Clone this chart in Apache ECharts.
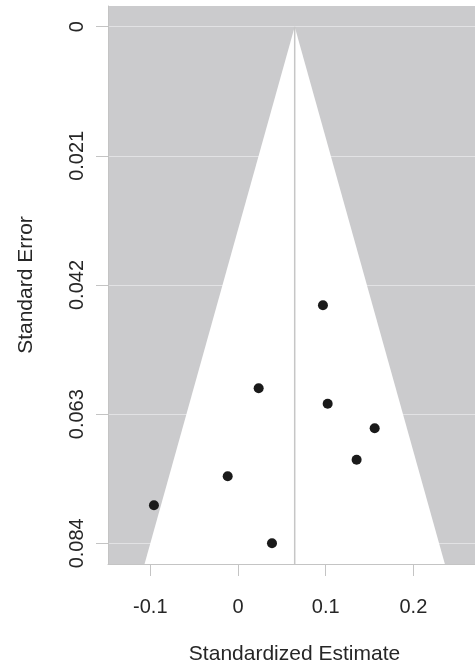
<!DOCTYPE html>
<html>
<head>
<meta charset="utf-8">
<script src="https://cdn.jsdelivr.net/npm/echarts@6/dist/echarts.min.js"></script>
<style>
  html, body { margin: 0; padding: 0; background: #ffffff; }
  #chart { width: 475px; height: 670px; }
</style>
</head>
<body>
<div id="chart"></div>
<script>
// Study estimates and their standard errors
const estimates = [0.0969, 0.0236, 0.1023, 0.1559, 0.1353, -0.0117, -0.0958, 0.0388];
const stdErrors = [0.0453, 0.0588, 0.0613, 0.0653, 0.0704, 0.0731, 0.0778, 0.0840];

// Pooled estimate (funnel centre) and pseudo-confidence multiplier
const pooledEstimate = 0.0647;
const zCrit = 1.96;

// Tick labels
const xTicks = [-0.1, 0, 0.1, 0.2];
const yTicks = [0, 0.021, 0.042, 0.063, 0.084];

// Axis ranges (y padded 4% beyond the tick span, x shown up to the page edge)
const yPad = 0.04 * (yTicks[yTicks.length - 1] - yTicks[0]);
const yMin = yTicks[0] - yPad;
const yMax = yTicks[yTicks.length - 1] + yPad;
const xMin = -0.1482;
const xMax = 0.2703;

const FONT = '"Liberation Sans", Arial, Helvetica, sans-serif';
const TEXT = '#262626';
const LINE = '#c4c4c4';

const points = estimates.map((e, i) => [e, stdErrors[i]]);

// Funnel region: apex at SE = 0, widening to +/- z * SE at the bottom of the axis
const funnel = [
  [pooledEstimate, 0],
  [pooledEstimate - zCrit * yMax, yMax],
  [pooledEstimate + zCrit * yMax, yMax]
];

const chart = echarts.init(document.getElementById('chart'), null, { renderer: 'canvas' });

chart.setOption({
  animation: false,
  backgroundColor: '#ffffff',
  grid: {
    left: 108, top: 6, right: 0, bottom: 103,
    show: true, backgroundColor: '#cbcbcd', borderWidth: 0
  },
  xAxis: {
    type: 'value',
    min: xMin, max: xMax,
    name: 'Standardized Estimate',
    nameLocation: 'middle',
    nameGap: 80,
    nameTextStyle: { fontFamily: FONT, fontSize: 21, color: TEXT, padding: [0, 0, 0, 6] },
    axisLine: { show: true, onZero: false, lineStyle: { color: LINE, width: 1 } },
    axisTick: { show: true, length: 12, lineStyle: { color: LINE }, customValues: xTicks },
    axisLabel: {
      fontFamily: FONT, fontSize: 20, color: TEXT, margin: 33,
      customValues: xTicks,
      formatter: v => String(Math.round(v * 10) / 10)
    },
    splitLine: { show: false }
  },
  yAxis: {
    type: 'value',
    inverse: true,
    min: yMin, max: yMax,
    name: 'Standard Error',
    nameLocation: 'middle',
    nameGap: 71,
    nameTextStyle: { fontFamily: FONT, fontSize: 21, color: TEXT },
    axisLine: { show: true, onZero: false, lineStyle: { color: LINE, width: 1 } },
    axisTick: { show: true, length: 12, lineStyle: { color: LINE }, customValues: yTicks },
    axisLabel: {
      fontFamily: FONT, fontSize: 20, color: TEXT, margin: 21, rotate: 90,
      customValues: yTicks,
      formatter: v => (v === 0 ? '0' : v.toFixed(3))
    },
    splitLine: { show: true, lineStyle: { color: '#e2e2e4', width: 1 } }
  },
  series: [
    {
      // white funnel region
      type: 'custom',
      coordinateSystem: 'cartesian2d',
      silent: true,
      z: 1,
      data: [0],
      renderItem: (params, api) => ({
        type: 'polygon',
        shape: { points: funnel.map(p => api.coord(p)) },
        style: { fill: '#ffffff', stroke: null }
      }),
      clip: true
    },
    {
      // vertical reference line at the pooled estimate
      type: 'line',
      silent: true,
      z: 2,
      symbol: 'none',
      data: [[pooledEstimate, 0], [pooledEstimate, yMax]],
      lineStyle: { color: '#c6c6c6', width: 1.5 }
    },
    {
      type: 'scatter',
      z: 3,
      symbol: 'circle',
      symbolSize: 10,
      data: points,
      itemStyle: { color: '#1a1a1a', opacity: 1 }
    }
  ]
});
</script>
</body>
</html>
